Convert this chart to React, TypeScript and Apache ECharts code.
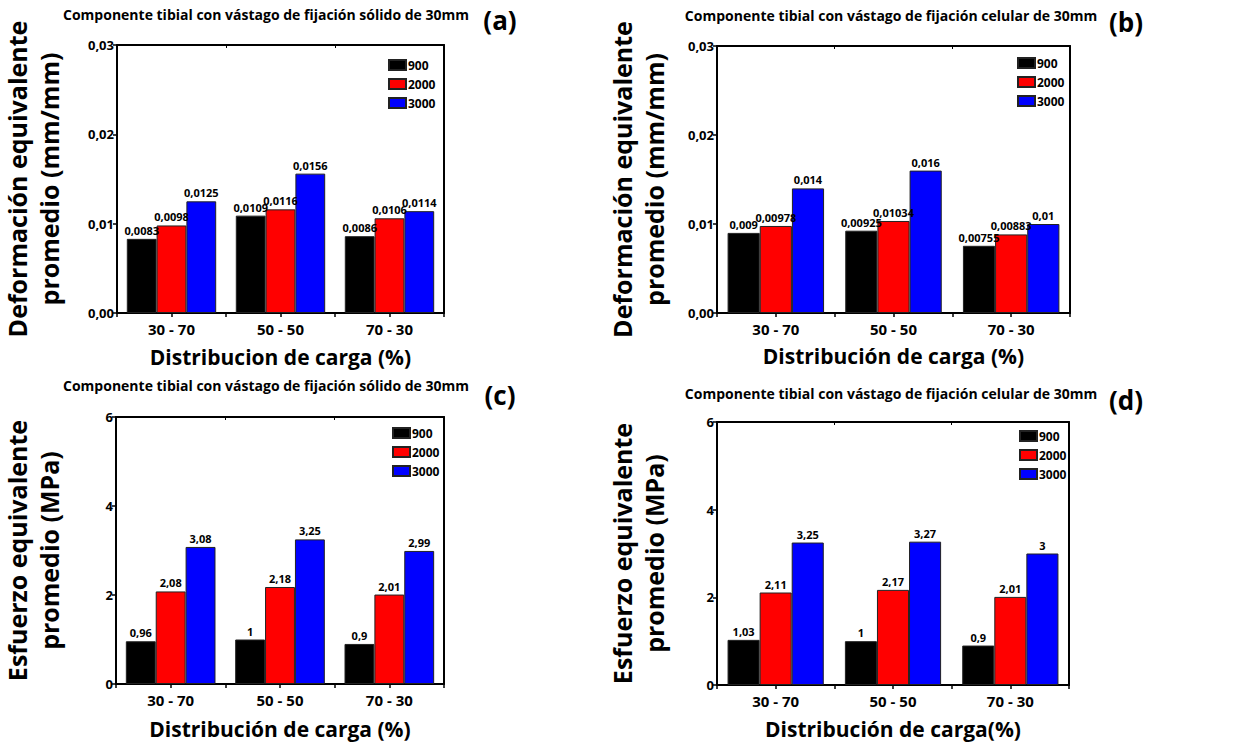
import React, { useEffect, useRef } from 'react';
import * as echarts from 'echarts';

const categories = ['30 - 70', '50 - 50', '70 - 30'];
const seriesNames = ['900', '2000', '3000'];
const seriesColors = ['#000000', '#ff0000', '#0000ff'];

// (a) deformation, solid stem
const defSolid900 = [0.0083, 0.0109, 0.0086];
const defSolid2000 = [0.0098, 0.0116, 0.0106];
const defSolid3000 = [0.0125, 0.0156, 0.0114];
// (b) deformation, cellular stem
const defCell900 = [0.009, 0.00925, 0.00755];
const defCell2000 = [0.00978, 0.01034, 0.00883];
const defCell3000 = [0.014, 0.016, 0.01];
// (c) stress, solid stem
const strSolid900 = [0.96, 1, 0.9];
const strSolid2000 = [2.08, 2.18, 2.01];
const strSolid3000 = [3.08, 3.25, 2.99];
// (d) stress, cellular stem
const strCell900 = [1.03, 1, 0.9];
const strCell2000 = [2.11, 2.17, 2.01];
const strCell3000 = [3.25, 3.27, 3];

const defTicks = ['0,00', '0,01', '0,02', '0,03'];
const strTicks = ['0', '2', '4', '6'];

const titleSolid = 'Componente tibial con vástago de fijación sólido de 30mm';
const titleCell = 'Componente tibial con vástago de fijación celular de 30mm';
const yNameDef = 'Deformación equivalente\npromedio (mm/mm)';
const yNameStr = 'Esfuerzo equivalente\npromedio (MPa)';

const FONT = 'Open Sans';

const panels = [
  {
    grid: { left: 90, top: 45, width: 354, height: 268 },
    data: [defSolid900, defSolid2000, defSolid3000],
    max: 0.03, interval: 0.01, ticks: defTicks,
    yName: yNameDef, yGap: 52,
    xName: 'Distribucion de carga (%)', xGap: 33,
    title: titleSolid, tx: 266, ty: 14, tag: '(a)', lx: 500, ly: 20,
    legend: { left: 388, top: 59 },
  },
  {
    grid: { left: 717, top: 46, width: 353, height: 267 },
    data: [defCell900, defCell2000, defCell3000],
    max: 0.03, interval: 0.01, ticks: defTicks,
    yName: yNameDef, yGap: 47,
    xName: 'Distribución de carga (%)', xGap: 32,
    title: titleCell, tx: 891, ty: 15, tag: '(b)', lx: 1126, ly: 22,
    legend: { left: 1017, top: 57 },
  },
  {
    grid: { left: 91, top: 417, width: 353, height: 267 },
    data: [strSolid900, strSolid2000, strSolid3000],
    max: 6, interval: 2, ticks: strTicks,
    yName: yNameStr, yGap: 51,
    xName: 'Distribución de carga (%)', xGap: 34,
    title: titleSolid, tx: 266, ty: 385, tag: '(c)', lx: 500, ly: 395,
    legend: { left: 392, top: 427 },
  },
  {
    grid: { left: 717, top: 422, width: 352, height: 263 },
    data: [strCell900, strCell2000, strCell3000],
    max: 6, interval: 2, ticks: strTicks,
    yName: yNameStr, yGap: 47,
    xName: 'Distribución de carga(%)', xGap: 33,
    title: titleCell, tx: 891, ty: 393, tag: '(d)', lx: 1126, ly: 400,
    legend: { left: 1019, top: 430 },
  },
];

function buildOption() {
  const grid: any[] = [];
  const xAxis: any[] = [];
  const yAxis: any[] = [];
  const series: any[] = [];
  const legend: any[] = [];
  const graphic: any[] = [];
  const line = { show: true, lineStyle: { color: '#000', width: 2 } };

  panels.forEach((p, i) => {
    grid.push({ ...p.grid, containLabel: false });
    // bottom main axis
    xAxis.push({
      type: 'category', gridIndex: i, data: categories, position: 'bottom',
      axisLine: line,
      axisTick: { show: true, length: 4, lineStyle: { color: '#000', width: 1.5 } },
      axisLabel: { color: '#000', fontFamily: FONT, fontWeight: 'bold', fontSize: 15, margin: 8 },
      name: p.xName, nameLocation: 'middle', nameGap: p.xGap,
      nameTextStyle: { color: '#000', fontFamily: FONT, fontWeight: 'bold', fontSize: 21 },
    });
    // bottom center ticks
    xAxis.push({
      type: 'category', gridIndex: i, data: categories, position: 'bottom',
      axisLine: { show: false },
      axisTick: { show: true, alignWithLabel: true, length: 4, lineStyle: { color: '#000', width: 1.5 } },
      axisLabel: { show: false },
    });
    // top frame
    xAxis.push({
      type: 'category', gridIndex: i, data: categories, position: 'top',
      axisLine: line,
      axisTick: { show: true, inside: true, length: 3, lineStyle: { color: '#000', width: 1 } },
      axisLabel: { show: false },
    });
    yAxis.push({
      type: 'value', gridIndex: i, min: 0, max: p.max, interval: p.interval, position: 'left',
      axisLine: line,
      axisTick: { show: true, length: 4, lineStyle: { color: '#000', width: 1.5 } },
      splitLine: { show: false },
      axisLabel: {
        color: '#000', fontFamily: FONT, fontWeight: 'bold', fontSize: 13, margin: 3,
        formatter: (v: number) => p.ticks[Math.round(v / p.interval)],
      },
      name: p.yName, nameLocation: 'middle', nameGap: p.yGap, nameRotate: 90,
      nameTextStyle: { color: '#000', fontFamily: FONT, fontWeight: 'bold', fontSize: 25, lineHeight: 32 },
    });
    yAxis.push({
      type: 'value', gridIndex: i, min: 0, max: p.max, interval: p.interval, position: 'right',
      axisLine: line, axisTick: { show: false }, axisLabel: { show: false }, splitLine: { show: false },
    });
    p.data.forEach((vals, k) => {
      series.push({
        type: 'bar', name: seriesNames[k], xAxisIndex: i * 3, yAxisIndex: i * 2,
        data: vals, barGap: '0%', barCategoryGap: '18%',
        itemStyle: { color: seriesColors[k], borderColor: '#222', borderWidth: 1 },
        label: {
          show: true, position: 'top', distance: 3, color: '#000', fontFamily: FONT,
          fontWeight: 'bold', fontSize: 11,
          formatter: (d: any) => String(d.value).replace('.', ','),
        },
      });
    });
    legend.push({
      data: seriesNames, orient: 'vertical', left: p.legend.left, top: p.legend.top,
      padding: 0, itemWidth: 17, itemHeight: 10, itemGap: 7, icon: 'rect',
      textStyle: { color: '#000', fontFamily: FONT, fontWeight: 'bold', fontSize: 12, padding: [0, 0, 0, -3] },
      selectedMode: false,
    });
    graphic.push({
      type: 'text', x: p.tx, y: p.ty,
      style: { text: p.title, fill: '#000', font: `bold 14px "${FONT}"`, textAlign: 'center', textVerticalAlign: 'middle' },
    });
    graphic.push({
      type: 'text', x: p.lx, y: p.ly,
      style: { text: p.tag, fill: '#000', font: `bold 26px "${FONT}"`, textAlign: 'center', textVerticalAlign: 'middle' },
    });
  });

  return { animation: false, backgroundColor: '#ffffff', grid, xAxis, yAxis, series, legend, graphic };
}

export default function App() {
  const ref = useRef<HTMLDivElement>(null);
  useEffect(() => {
    if (!ref.current) return;
    const chart = echarts.init(ref.current, null, { renderer: 'svg' });
    chart.setOption(buildOption() as any);
    return () => chart.dispose();
  }, []);
  return <div ref={ref} style={{ position: 'fixed', left: 0, top: 0, width: 1252, height: 744, background: '#fff' }} />;
}
